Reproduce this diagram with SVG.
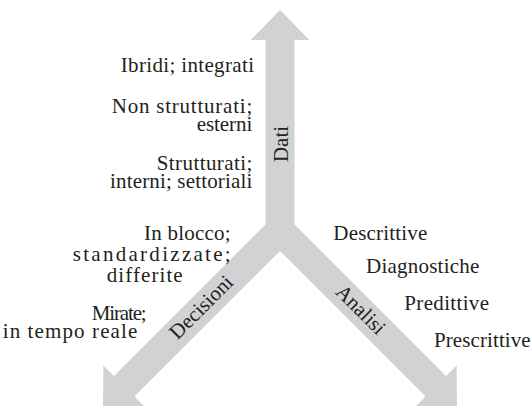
<svg xmlns="http://www.w3.org/2000/svg" width="532" height="406" viewBox="0 0 532 406">
  <style>
    .t { font-family: "Liberation Serif", "Times New Roman", serif; font-size: 21px; fill: #231f20; }
    .band { fill: #d1d2d4; }
  </style>
  <rect width="532" height="406" fill="#ffffff"/>
  <g id="axes">
    <polygon class="band" points="280,10 309.5,40 294.5,40 294.5,224.5 446.04,376.04 456.65,365.43 457,407.5 414.93,407.15 425.54,396.54 280,251 134.46,396.54 145.07,407.15 103,407.5 103.35,365.43 113.96,376.04 265.5,224.5 265.5,40 250.5,40"/>
  </g>
  <g id="axis-labels">
    <text class="t" transform="translate(288,144) rotate(-90)" text-anchor="middle">Dati</text>
    <text class="t" transform="translate(206,312) rotate(-45)" text-anchor="middle">Decisioni</text>
    <text class="t" transform="translate(356,314.5) rotate(45)" text-anchor="middle">Analisi</text>
  </g>
  <g id="dati-labels">
    <text class="t" x="120.7" y="72.3" textLength="133.3" lengthAdjust="spacing">Ibridi; integrati</text>
    <text class="t" x="111.7" y="112.7" textLength="140.6" lengthAdjust="spacing">Non strutturati;</text>
    <text class="t" x="196.7" y="131" textLength="55.6" lengthAdjust="spacing">esterni</text>
    <text class="t" x="156.7" y="170" textLength="95.6" lengthAdjust="spacing">Strutturati;</text>
    <text class="t" x="110" y="187.7" textLength="142.3" lengthAdjust="spacing">interni; settoriali</text>
  </g>
  <g id="decisioni-labels">
    <text class="t" x="144" y="240" textLength="86.7" lengthAdjust="spacing">In blocco;</text>
    <text class="t" x="72.7" y="260.7" textLength="158" lengthAdjust="spacing">standardizzate;</text>
    <text class="t" x="106.7" y="281.7" textLength="76" lengthAdjust="spacing">differite</text>
    <text class="t" x="91.7" y="320" textLength="55" lengthAdjust="spacing">Mirate;</text>
    <text class="t" x="2.7" y="338.3" textLength="134.6" lengthAdjust="spacing">in tempo reale</text>
  </g>
  <g id="analisi-labels">
    <text class="t" x="333.3" y="240" textLength="94" lengthAdjust="spacing">Descrittive</text>
    <text class="t" x="366" y="273.3" textLength="113.3" lengthAdjust="spacing">Diagnostiche</text>
    <text class="t" x="404.3" y="310" textLength="84.7" lengthAdjust="spacing">Predittive</text>
    <text class="t" x="434" y="346.7" textLength="96.7" lengthAdjust="spacing">Prescrittive</text>
  </g>
</svg>
